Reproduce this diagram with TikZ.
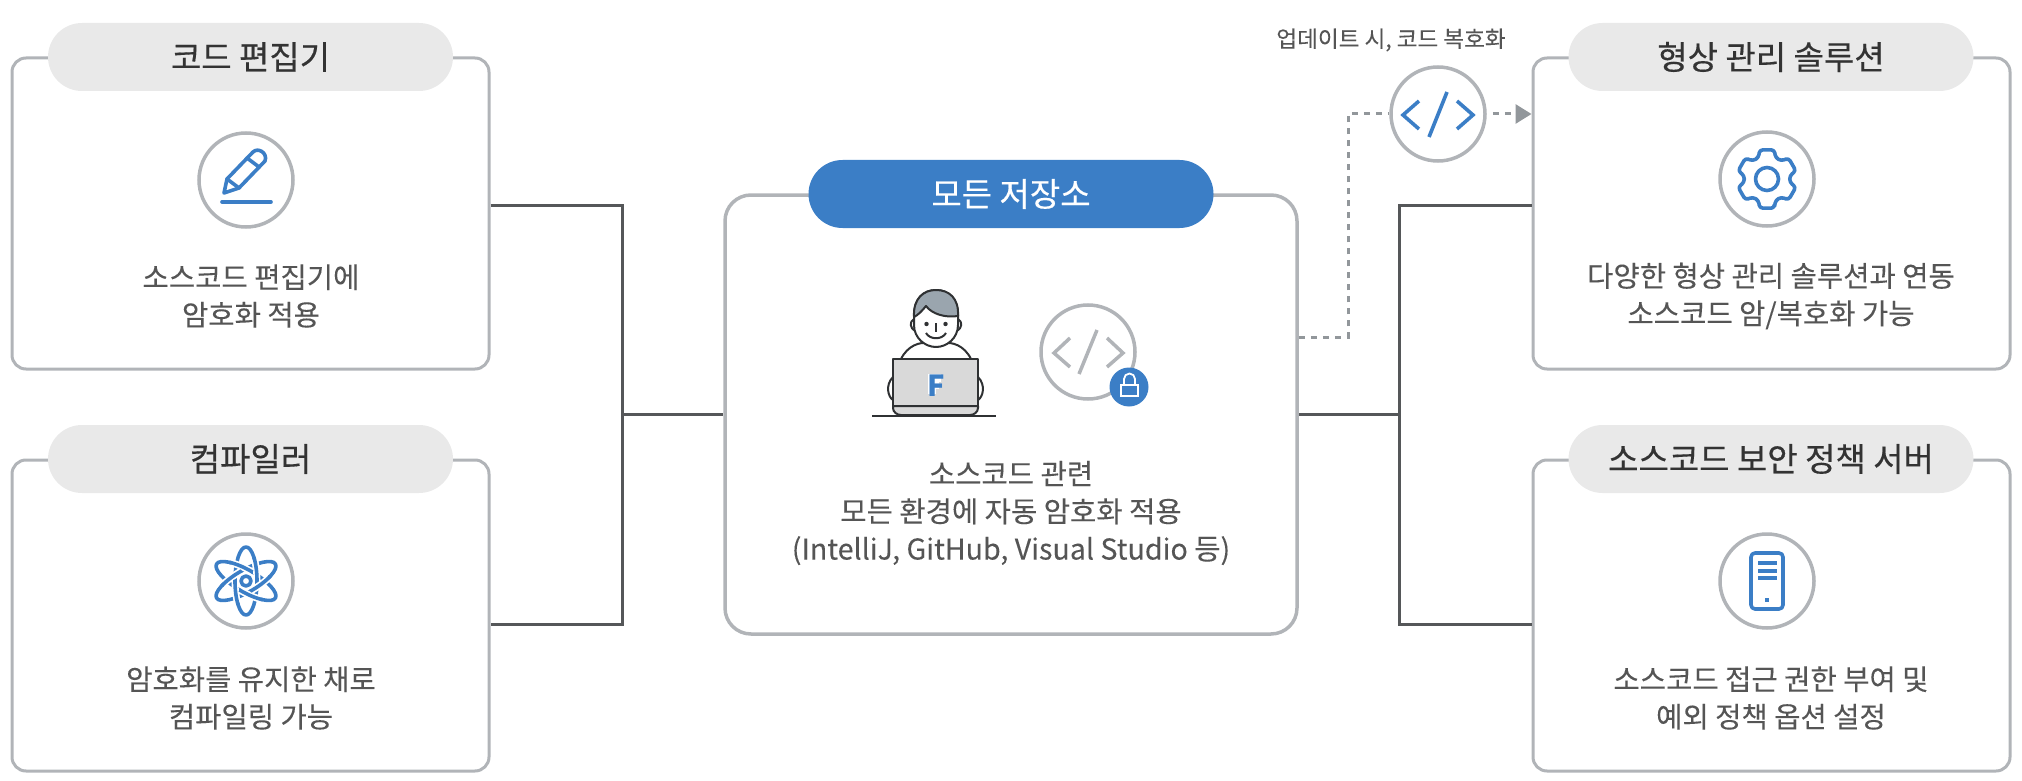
\documentclass[tikz,border=0pt]{standalone}
\usepackage{fontspec}
\setmainfont{Noto Sans CJK KR}
\newfontfamily\titlefont[FakeBold=0.35]{Noto Sans CJK KR}
\newfontfamily\bodyfont[FakeBold=0.12]{Noto Sans CJK KR}
\usetikzlibrary{arrows.meta}
\definecolor{brand}{HTML}{3B7EC6}
\definecolor{edgegray}{HTML}{B1B4B8}
\definecolor{pillgray}{HTML}{E9E9E9}
\definecolor{wire}{HTML}{555759}
\definecolor{bodytxt}{HTML}{555555}
\definecolor{titletxt}{HTML}{333333}
\definecolor{dotgray}{HTML}{92979B}
\definecolor{hair}{HTML}{9AA5AE}
\definecolor{laptop}{HTML}{D9D9D9}
\definecolor{ink}{HTML}{2F3133}
\tikzset{
  card/.style={draw=edgegray,line width=3pt,rounded corners=14pt,minimum width=477pt,minimum height=311pt,inner sep=0pt},
  bigcard/.style={draw=edgegray,line width=3.5pt,rounded corners=26pt,minimum width=572pt,minimum height=439pt,inner sep=0pt},
  pill/.style={fill=pillgray,rounded corners=34pt,minimum width=405pt,minimum height=68pt,inner sep=0pt,text=titletxt,font=\fontsize{33}{40}\titlefont},
  bluepill/.style={pill,fill=brand,text=white},
  body/.style={align=center,text=bodytxt,font=\fontsize{28.6}{37.5}\bodyfont,inner sep=0pt},
  iconring/.style={circle,draw=edgegray,line width=3.5pt,minimum size=94pt,inner sep=0pt},
  wireline/.style={draw=wire,line width=3pt,line join=miter},
  dotline/.style={draw=dotgray,line width=3pt,dash pattern=on 6pt off 6pt},
  icon/.style={draw=brand,line width=3.6pt,line join=round,line cap=round},
  person/.style={draw=ink,line width=2pt,line join=round},
}
\begin{document}
\begin{tikzpicture}[x=1pt,y=-1pt]
\useasboundingbox (0,0) rectangle (2022,781);

% cards
\node[card] (c1) at (250.5,213.5) {};
\node[card] (c2) at (250.5,615.5) {};
\node[card] (c3) at (1771.5,213.5) {};
\node[card] (c4) at (1771.5,615.5) {};
\node[bigcard] (cc) at (1011,414.5) {};

% junctions
\coordinate (jl1) at (622,205);
\coordinate (jl2) at (622,624);
\coordinate (jlm) at (622,414.5);
\coordinate (jr1) at (1399,205);
\coordinate (jr2) at (1399,624);
\coordinate (jrm) at (1399,414.5);
\draw[wireline] (c1.east |- jl1) -- (jl1) -- (jl2) -- (c2.east |- jl2);
\draw[wireline] (jlm) -- (cc.west |- jlm);
\draw[wireline] (c3.west |- jr1) -- (jr1) -- (jr2) -- (c4.west |- jr2);
\draw[wireline] (jrm) -- (cc.east |- jrm);

% pills and titles
\node[pill] (p1) at (250.5,57) {코드 편집기};
\node[pill] (p2) at (250.5,459) {컴파일러};
\node[pill] (p3) at (1771,57) {형상 관리 솔루션};
\node[pill] (p4) at (1771,459) {소스코드 보안 정책 서버};
\node[bluepill] (pc) at (1011,194) {모든 저장소};

% body text
\node[body] (t1) at (251,296) {소스코드 편집기에\\암호화 적용};
\node[body] (t2) at (251,698) {암호화를 유지한 채로\\컴파일링 가능};
\node[body] (t3) at (1771,296) {다양한 형상 관리 솔루션과 연동\\소스코드 암/복호화 가능};
\node[body] (t4) at (1771,698) {소스코드 접근 권한 부여 및\\예외 정책 옵션 설정};
\node[body] (tc) at (1011,513) {소스코드 관련\\모든 환경에 자동 암호화 적용\\(IntelliJ, GitHub, Visual Studio 등)};
\node[text=bodytxt,font=\fontsize{22.6}{28}\bodyfont,inner sep=0pt] (lab) at (1391,40) {업데이트 시, 코드 복호화};

% icon rings
\node[iconring] (r1) at (246,180) {};
\node[iconring] (r2) at (246,581) {};
\node[iconring] (r3) at (1767,179) {};
\node[iconring] (r4) at (1767,581) {};
\node[iconring] (rcode) at (1438,114) {};
\node[iconring] (rgray) at (1088,352) {};

% dotted route
\coordinate (dbend1) at (1348,337);
\coordinate (dbend2) at (1348,114);
\draw[dotline] (cc.east |- dbend1) -- (dbend1) -- (dbend2) -- (rcode.west);
\draw[dotline,-{Triangle[length=16pt,width=19pt,fill=dotgray]},shorten <=6pt] (rcode.east) -- (c3.west |- rcode);

% pencil
\draw[icon] (224,193) -- (227,179) -- (253,152) .. controls (258,147) and (268,153) .. (265,161) -- (239,188) -- cycle;
\draw[icon] (227,179) -- (239,188);
\draw[icon] (247,158) -- (259,167);
\draw[icon] (222,202) -- (271,202);

% atom
\begin{scope}[shift={(246,581)}]
\foreach \r in {0,60,120}
  \draw[icon,rotate=\r] (0,0) ellipse (11 and 34);
\foreach \r in {0,60,120,180,240,300} {
  \draw[white,line width=7pt,rotate=\r] plot[domain=-40:0,samples=14] ({11*cos(\x)},{34*sin(\x)});
  \draw[icon,line cap=butt,rotate=\r] plot[domain=-44:2,samples=16] ({11*cos(\x)},{34*sin(\x)});
}
\draw[icon] (0,0) circle (5);
\end{scope}

% gear
\begin{scope}[shift={(1767,179)}]
\draw[icon,rounded corners=3pt] (76:30)
  \foreach \a in {90,150,210,270,330,390} {
    -- (\a-14:30) -- (\a+14:30) -- (\a+22:23) -- (\a+38:23)
  } -- cycle;
\draw[icon] (0,0) circle (11.5);
\end{scope}

% server
\draw[icon,rounded corners=4pt] (1751,553) rectangle (1783,609);
\foreach \y in {563,570.5,578}
  \fill[brand] (1758,\y-2) rectangle (1777,\y+2);
\fill[brand] (1765,598) rectangle (1769,602);

% blue code icon
\begin{scope}[shift={(rcode.center)}]
\draw[icon,line cap=butt,line join=miter] (-19,-13) -- (-35,1) -- (-19,15);
\draw[icon,line cap=butt] (9,-22) -- (-9,23);
\draw[icon,line cap=butt,line join=miter] (19,-13) -- (35,1) -- (19,15);
\end{scope}

% gray code icon
\begin{scope}[shift={(rgray.center)}]
\draw[edgegray,line width=3.5pt,line join=miter] (-18,-14) -- (-34,1) -- (-18,15);
\draw[edgegray,line width=3.5pt] (9,-22) -- (-9,22);
\draw[edgegray,line width=3.5pt,line join=miter] (19,-14) -- (35,1) -- (19,15);
\end{scope}

% lock badge
\node[circle,fill=brand,minimum size=39pt,inner sep=0pt] (lockb) at (1129,387) {};
\draw[white,line width=1.8pt] (1121,385) rectangle (1138,396);
\draw[white,line width=1.8pt] (1124,385) -- (1124,379) arc (180:360:5.5) -- (1135,385);

% person
\draw[person] (893,377) .. controls (885,385) and (888,397) .. (893,400);
\draw[person] (978,377) .. controls (986,385) and (983,397) .. (978,400);
\draw[person] (901,359) .. controls (908,345) and (920,342) .. (928,343);
\draw[person] (971,359) .. controls (964,345) and (952,342) .. (944,343);
\draw[person] (914,319) .. controls (909,322) and (910,328) .. (915,331);
\draw[person] (958,319) .. controls (963,322) and (962,328) .. (957,331);
\draw[person,fill=white] (914,315) -- (914,325) .. controls (914,338) and (925,347) .. (936,347)
  .. controls (947,347) and (958,338) .. (958,325) -- (958,315)
  .. controls (958,298) and (948,290) .. (936,290)
  .. controls (924,290) and (914,298) .. (914,315) -- cycle;
\draw[person,fill=hair] (914,317) .. controls (913,298) and (924,290) .. (936,290)
  .. controls (949,290) and (959,298) .. (958,316)
  .. controls (945,318) and (932,314) .. (926,306)
  .. controls (922,311) and (918,315) .. (914,317) -- cycle;
\fill[ink] (926.5,324) circle (2.2);
\fill[ink] (945.5,324) circle (2.2);
\draw[person] (936,323) -- (936,332);
\draw[person] (926,333) .. controls (930,340) and (942,340) .. (946,333);
\draw[person,fill=laptop] (893,406) -- (893,408) .. controls (893,412) and (897,415) .. (901,415)
  -- (970,415) .. controls (974,415) and (978,412) .. (978,408) -- (978,406) -- cycle;
\draw[person,fill=laptop] (893,359) rectangle (978,406);
\draw[person] (872,415.5) -- (996,415.5);
\draw[white,line width=8pt,line join=miter] (932,394) -- (932,378) -- (941,378);
\draw[white,line width=7pt] (932,385.5) -- (939,385.5);
\node[text=brand,font=\fontsize{29}{30}\bfseries,inner sep=0pt] (logo) at (936,385.5) {F};
\end{tikzpicture}
\end{document}
